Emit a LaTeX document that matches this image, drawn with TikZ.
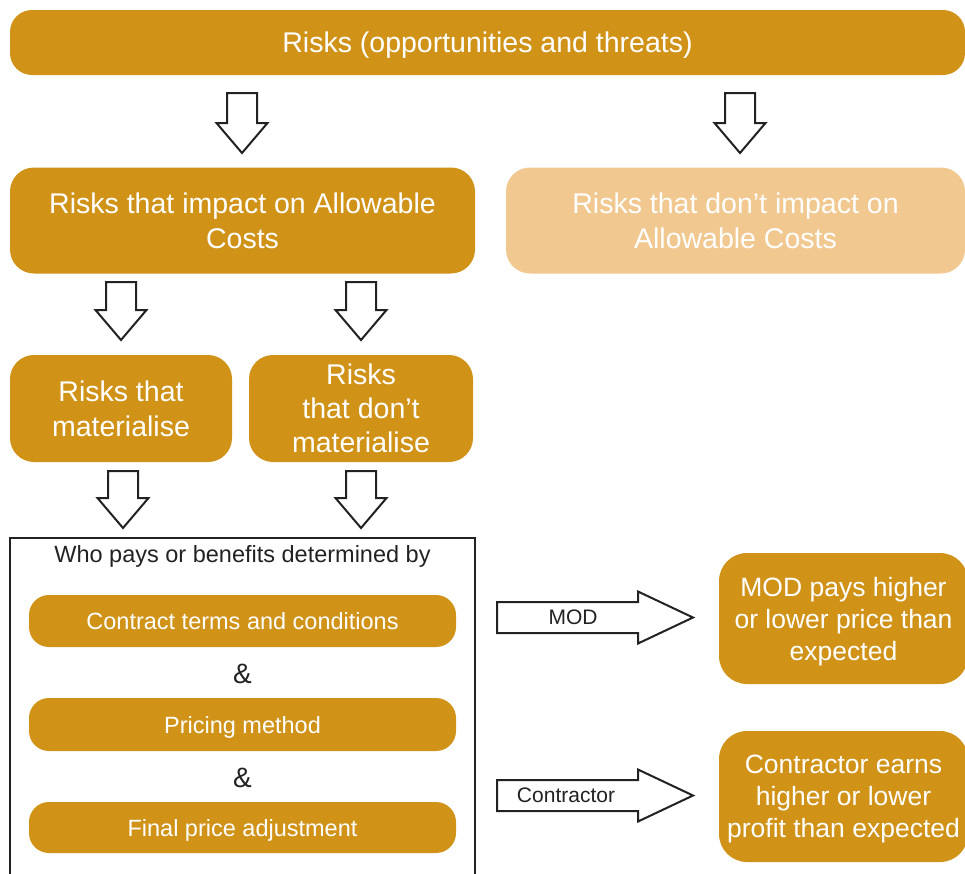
\documentclass[tikz,border=0pt]{standalone}
\usepackage{fontspec}
\setmainfont{Liberation Sans}
\definecolor{gold}{HTML}{D09217}
\definecolor{lightgold}{HTML}{F1C890}
\definecolor{ink}{HTML}{222222}
\newcommand{\blkdown}[3]{%
  \draw[blkarrow] (#1-15,#2) -- (#1+15,#2) -- (#1+15,#3-30) -- (#1+25.5,#3-30) -- (#1,#3) -- (#1-25.5,#3-30) -- (#1-15,#3-30) -- cycle;}
\newcommand{\blkright}[4]{% x0, xhead, xtip, yc
  \draw[blkarrow] (#1,#4-15.5) -- (#2,#4-15.5) -- (#2,#4-26) -- (#3,#4) -- (#2,#4+26) -- (#2,#4+15.5) -- (#1,#4+15.5) -- cycle;}
\begin{document}
\begin{tikzpicture}[x=1pt,y=-1pt,
  gbox/.style={fill=gold, text=white, inner sep=0pt, align=center, text depth=0pt, rounded corners=#1},
  gbox/.default=22pt,
  big/.style={font=\fontsize{28.5}{35}\selectfont},
  mid/.style={font=\fontsize{26.5}{32}\selectfont},
  small/.style={font=\fontsize{23.5}{28}\selectfont},
  lbl/.style={font=\fontsize{21}{25}\selectfont, text=ink, inner sep=0pt},
  blkarrow/.style={draw=ink, fill=white, line width=2pt, line join=miter}]
\useasboundingbox (0,0) rectangle (965,873);

% top
\node[gbox, big, minimum width=955pt, minimum height=65pt] (top) at (487.5,42.5) {Risks (opportunities and threats)};

\blkdown{242}{93}{153}
\blkdown{740}{93}{153}

\node[gbox=24pt, big, minimum width=465pt, minimum height=106pt] (impact) at (242.5,220.5) {Risks that impact on Allowable\\Costs};
\node[gbox=24pt, big, fill=lightgold, minimum width=459pt, minimum height=106pt] (noimpact) at (735.5,220.5) {Risks that don’t impact on\\Allowable Costs};

\blkdown{121}{282}{340}
\blkdown{361}{282}{340}

\node[gbox=24pt, big, minimum width=222pt, minimum height=107pt] (mat) at (121,408.5) {Risks that\\materialise};
\node[gbox=24pt, big, font=\fontsize{28.5}{34}\selectfont, minimum width=224pt, minimum height=107pt] (notmat) at (361,408.5) {Risks\\that don’t\\materialise};

\blkdown{123}{471}{528}
\blkdown{361}{471}{528}

% frame
\draw[ink, line width=1.8pt] (10,885) -- (10,538) -- (475,538) -- (475,885);
\node[small, text=ink, inner sep=0pt] (who) at (242.5,556) {Who pays or benefits determined by};

\node[gbox=20pt, small, text=white, minimum width=427pt, minimum height=52pt] (terms) at (242.5,621) {Contract terms and conditions};
\node[font=\fontsize{28}{30}\selectfont, text=ink, inner sep=0pt] (amp1) at (242.5,674) {\&};
\node[gbox=20pt, small, text=white, minimum width=427pt, minimum height=53pt] (pricing) at (242.5,724.5) {Pricing method};
\node[font=\fontsize{28}{30}\selectfont, text=ink, inner sep=0pt] (amp2) at (242.5,778) {\&};
\node[gbox=20pt, small, text=white, minimum width=427pt, minimum height=51pt] (final) at (242.5,827.5) {Final price adjustment};

% right arrows
\blkright{497}{638}{693}{617.5}
\node[lbl] (modlbl) at (573,617.5) {MOD};
\blkright{497}{638}{693}{795.5}
\node[lbl] (conlbl) at (566,795.5) {Contractor};

\node[gbox=28pt, mid, minimum width=249pt, minimum height=131pt] (modbox) at (843.5,618.5) {MOD pays higher\\or lower price than\\expected};
\node[gbox=28pt, mid, minimum width=249pt, minimum height=131pt] (conbox) at (843.5,796.5) {Contractor earns\\higher or lower\\profit than expected};
\end{tikzpicture}
\end{document}
